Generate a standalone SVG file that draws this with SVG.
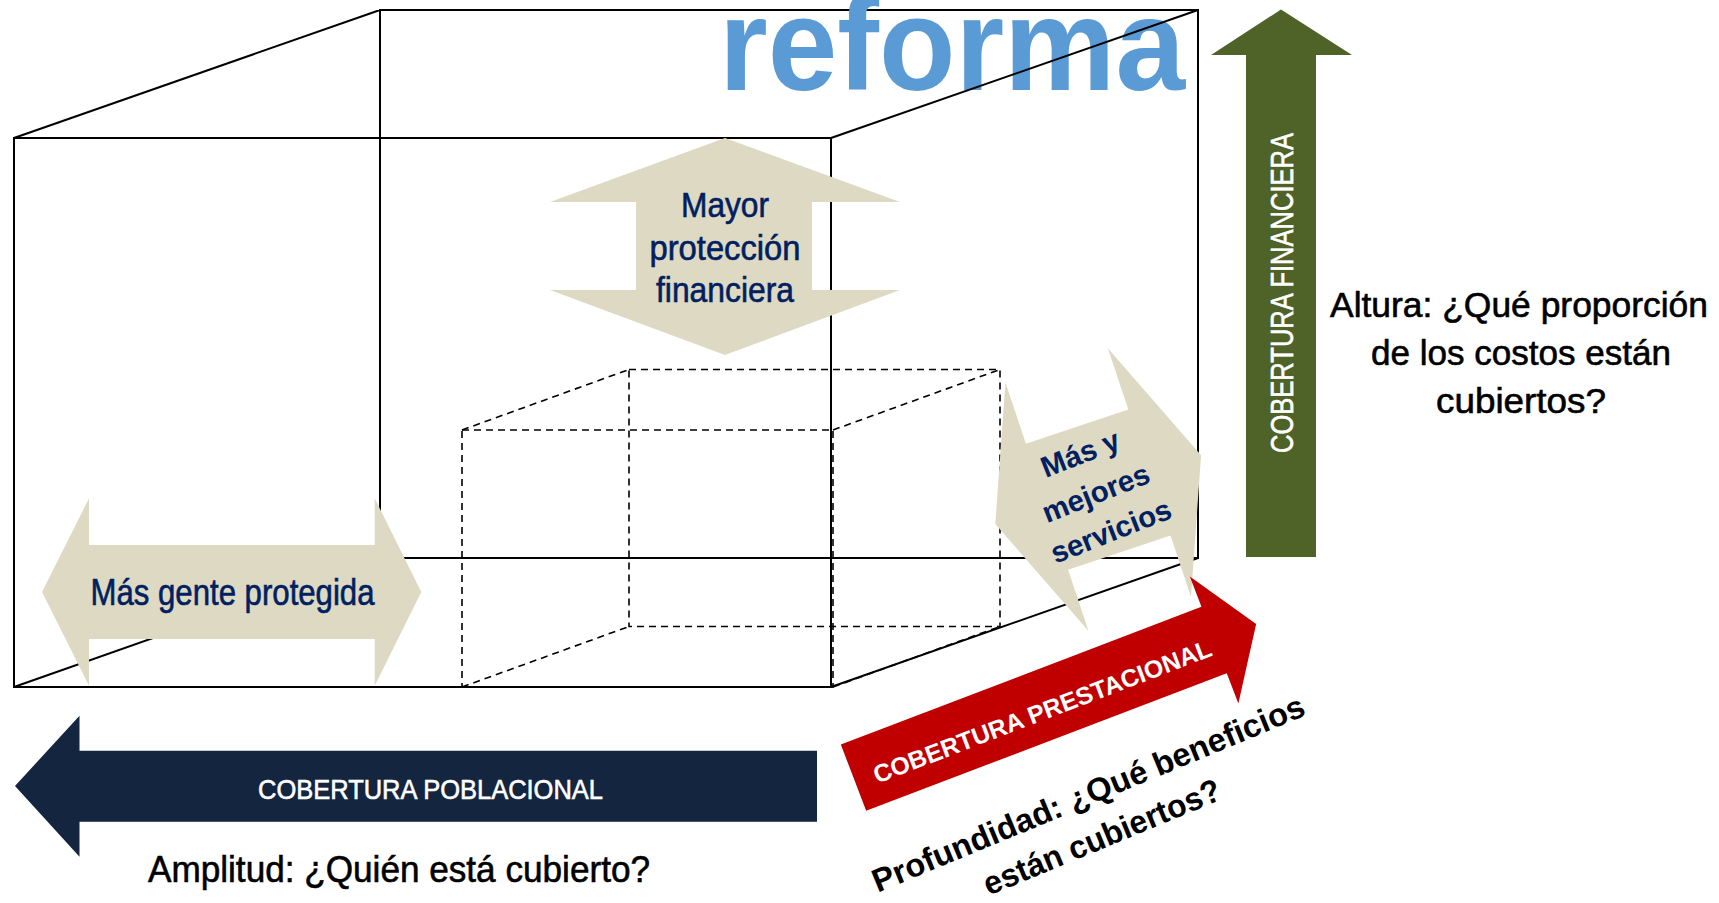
<svg xmlns="http://www.w3.org/2000/svg" width="1719" height="903" viewBox="0 0 1719 903">
  <style>
    .edge{stroke:#000;stroke-width:2;fill:none}
    .hid{stroke:#000;stroke-width:1.6;fill:none;stroke-dasharray:7 5}
    .tan{fill:#DDD9C3}
    .narrow{font-family:"Liberation Sans Narrow","Arial Narrow","Liberation Sans",Arial,sans-serif;stroke-width:0.6}
    .sans{font-family:"Liberation Sans",Arial,sans-serif}
    .navy{fill:#002060;stroke:#002060}
    .ink{fill:#000;stroke:#000}
    .white{fill:#fff;stroke:#fff}
    .mid{text-anchor:middle}
  </style>
  <rect width="1719" height="903" fill="#fff"/>

  <!-- outer cube (solid) -->
  <g id="outer-box" class="edge">
    <rect x="14" y="138" width="817" height="549"/>
    <path d="M380 558V10H1198V558H380M14 138L380 10M14 687L380 558M831 687L1198 558"/>
  </g>

  <!-- inner cube (dashed) -->
  <g id="inner-box" class="hid">
    <rect x="462" y="430" width="371" height="257"/>
    <rect x="629" y="369.5" width="371" height="257"/>
    <path d="M462 430L629 369.5M833 430L1000 369.5M462 687L629 626.5M833 687L1000 626.5"/>
  </g>

  <!-- title word -->
  <g id="title">
    <text class="sans" x="719" y="90" font-size="132" font-weight="bold" fill="#5B9BD5" textLength="466" lengthAdjust="spacingAndGlyphs">reforma</text>
  </g>

  <!-- top-right edge of the outer cube, drawn over the title -->
  <g id="outer-box-edge" class="edge">
    <path d="M831 138L1198 10"/>
  </g>

  <!-- vertical double arrow -->
  <g id="mayor-proteccion">
    <path class="tan" d="M725 138L900 202H812V290H900L725 355L550 290H636V202H550Z"/>
    <g class="narrow navy mid" font-size="35">
      <text x="725" y="217" textLength="88" lengthAdjust="spacingAndGlyphs">Mayor</text>
      <text x="725" y="259.5" textLength="151" lengthAdjust="spacingAndGlyphs">protección</text>
      <text x="725" y="302" textLength="138" lengthAdjust="spacingAndGlyphs">financiera</text>
    </g>
  </g>

  <!-- horizontal double arrow -->
  <g id="mas-gente">
    <path class="tan" d="M42 592L89 498.3V545H374.7V498.3L421.3 592L374.7 685.7V639H89V685.7Z"/>
    <text class="narrow navy mid" x="232.5" y="604.5" font-size="36" textLength="284" lengthAdjust="spacingAndGlyphs">Más gente protegida</text>
  </g>

  <!-- slanted double arrow -->
  <g id="mas-servicios">
    <path class="tan" transform="translate(1098.2 489.6) rotate(-18.5)" d="M-108.5 0L-54 -131V-66.5H54V-131L108.5 0L54 131V66.5H-54V131Z"/>
    <g class="sans mid" fill="#002060" font-size="29.5" font-weight="bold" transform="translate(1099.3 495) rotate(-21.5)">
      <text x="-2.5" y="-35.5">Más y</text>
      <text x="-2.5" y="7" textLength="113" lengthAdjust="spacingAndGlyphs">mejores</text>
      <text x="-2.5" y="48" textLength="127" lengthAdjust="spacingAndGlyphs">servicios</text>
    </g>
  </g>

  <!-- population axis -->
  <g id="cobertura-poblacional">
    <path fill="#13253F" d="M15 786L79.5 715.7V750.7H817V821.7H79.5V856.7Z"/>
    <text class="narrow white mid" x="430.5" y="798.5" font-size="28" stroke-width="0.3" textLength="345" lengthAdjust="spacingAndGlyphs">COBERTURA POBLACIONAL</text>
    <text class="narrow ink mid" x="399" y="881.5" font-size="37" textLength="502" lengthAdjust="spacingAndGlyphs">Amplitud: ¿Quién está cubierto?</text>
  </g>

  <!-- benefits axis -->
  <g id="cobertura-prestacional">
    <g transform="translate(853.5 777.7) rotate(-20.9)">
      <path fill="#C00000" d="M0 -35.5H386V-68L431 0L386 68V35.5H0Z"/>
      <text class="sans mid" x="200" y="14" font-size="24.7" font-weight="bold" fill="#fff" textLength="360" lengthAdjust="spacingAndGlyphs">COBERTURA PRESTACIONAL</text>
    </g>
    <g class="sans mid" font-size="32.6" font-weight="bold" fill="#000" transform="translate(1092.5 803.8) rotate(-22.5)">
      <text x="0" y="0" textLength="465" lengthAdjust="spacingAndGlyphs">Profundidad: ¿Qué beneficios</text>
      <text x="-4" y="45.4" textLength="254" lengthAdjust="spacingAndGlyphs">están cubiertos?</text>
    </g>
  </g>

  <!-- financial axis -->
  <g id="cobertura-financiera">
    <path fill="#4F6228" d="M1281 9.5L1352 55H1316V557H1246V55H1211Z"/>
    <text class="narrow white mid" transform="translate(1293 293) rotate(-90)" font-size="31" stroke-width="0.3" textLength="320" lengthAdjust="spacingAndGlyphs">COBERTURA FINANCIERA</text>
    <g class="narrow ink mid" font-size="35">
      <text x="1519" y="317" textLength="378" lengthAdjust="spacingAndGlyphs">Altura: ¿Qué proporción</text>
      <text x="1521" y="364.5" textLength="300" lengthAdjust="spacingAndGlyphs">de los costos están</text>
      <text x="1521" y="412.5" textLength="170" lengthAdjust="spacingAndGlyphs">cubiertos?</text>
    </g>
  </g>
</svg>
